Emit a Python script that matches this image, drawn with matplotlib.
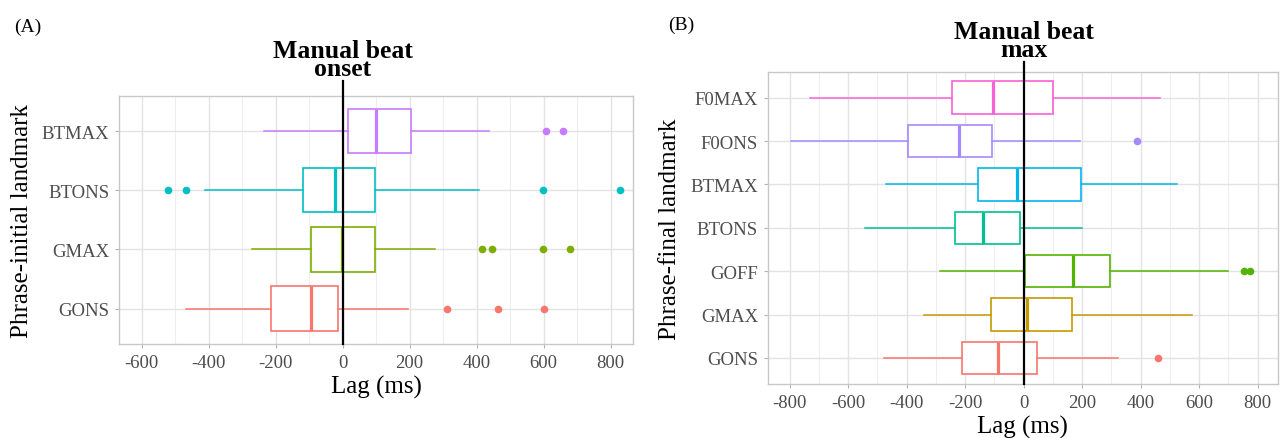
"""Lag of phrase landmarks relative to manual beat landmarks, two boxplot panels."""

import matplotlib

matplotlib.use("Agg")

import matplotlib.pyplot as plt
from matplotlib.ticker import MultipleLocator
from matplotlib.transforms import blended_transform_factory

plt.rcParams["font.family"] = ["Liberation Serif", "DejaVu Serif"]
plt.rcParams["axes.unicode_minus"] = False

# ---- panel A: phrase-initial landmarks vs manual beat onset (bottom -> top)
A_LANDMARKS = ["GONS", "GMAX", "BTONS", "BTMAX"]
A_WHISK_LO = [-468, -270, -412, -235]
A_Q1 = [-213, -95, -118, 15]
A_MED = [-93, -3, -23, 100]
A_Q3 = [-15, 96, 98, 205]
A_WHISK_HI = [194, 275, 408, 438]
A_OUTLIERS = [
    [311, 465, 602],
    [415, 447, 598, 680],
    [-522, -468, 597, 828],
    [607, 657],
]
A_COLORS = ["#F8766D", "#7CAE00", "#00BFC4", "#C77CFF"]

# ---- panel B: phrase-final landmarks vs manual beat max (bottom -> top)
B_LANDMARKS = ["GONS", "GMAX", "GOFF", "BTONS", "BTMAX", "F0ONS", "F0MAX"]
B_WHISK_LO = [-476, -342, -284, -542, -471, -795, -730]
B_Q1 = [-212, -111, 4, -233, -154, -395, -245]
B_MED = [-89, 11, 169, -140, -24, -221, -106]
B_Q3 = [45, 166, 295, -11, 195, -107, 101]
B_WHISK_HI = [324, 577, 698, 200, 523, 193, 468]
B_OUTLIERS = [[459], [], [755, 773], [], [], [389], []]
B_COLORS = ["#F8766D", "#C49A00", "#53B400", "#00C094", "#00B6EB", "#A58AFF", "#FB61D7"]

TICK_GREY = "#4D4D4D"


def _draw_panel(ax, landmarks, lo, q1, med, q3, hi, outliers, colors, xlim, major, ylabel):
    stats = [
        {"label": name, "whislo": a, "q1": b, "med": c, "q3": d, "whishi": e, "fliers": f}
        for name, a, b, c, d, e, f in zip(landmarks, lo, q1, med, q3, hi, outliers)
    ]
    positions = list(range(1, len(landmarks) + 1))
    art = ax.bxp(
        stats,
        positions=positions,
        widths=0.75,
        orientation="horizontal",
        showcaps=False,
        patch_artist=True,
        boxprops={"linewidth": 1.2},
        whiskerprops={"linewidth": 1.1},
        medianprops={"linewidth": 2.3},
        flierprops={"marker": "o", "markersize": 5.5, "markeredgewidth": 0},
    )
    for i, color in enumerate(colors):
        art["boxes"][i].set_facecolor("white")
        art["boxes"][i].set_edgecolor(color)
        art["medians"][i].set_color(color)
        art["whiskers"][2 * i].set_color(color)
        art["whiskers"][2 * i + 1].set_color(color)
        art["fliers"][i].set_markerfacecolor(color)
        art["fliers"][i].set_markeredgecolor(color)

    ax.set_xlim(*xlim)
    ax.set_ylim(0.4, len(landmarks) + 0.6)
    ax.set_yticks(positions)
    ax.set_yticklabels(landmarks)
    ax.xaxis.set_major_locator(MultipleLocator(major))
    ax.xaxis.set_minor_locator(MultipleLocator(major / 2))

    ax.set_axisbelow(True)
    ax.grid(True, which="major", color="#E3E3E3", linewidth=1.0)
    ax.grid(True, which="minor", axis="x", color="#EEEEEE", linewidth=0.8)
    for spine in ax.spines.values():
        spine.set_color("#C8C8C8")
        spine.set_linewidth(1.0)
    ax.tick_params(which="major", length=3, color="#B3B3B3", labelsize=13.5,
                   labelcolor=TICK_GREY, pad=4)
    ax.tick_params(which="minor", length=0)

    ax.set_xlabel("Lag (ms)", fontsize=18)
    ax.set_ylabel(ylabel, fontsize=18)


fig = plt.figure(figsize=(12.83, 4.39), dpi=100)
ax_a = fig.add_axes([0.0928, 0.2141, 0.4006, 0.5656])
ax_b = fig.add_axes([0.5983, 0.1230, 0.3978, 0.7114])

_draw_panel(ax_a, A_LANDMARKS, A_WHISK_LO, A_Q1, A_MED, A_Q3, A_WHISK_HI, A_OUTLIERS,
            A_COLORS, (-667, 867), 200, "Phrase-initial landmark")
_draw_panel(ax_b, B_LANDMARKS, B_WHISK_LO, B_Q1, B_MED, B_Q3, B_WHISK_HI, B_OUTLIERS,
            B_COLORS, (-875, 870), 200, "Phrase-final landmark")

ax_a.yaxis.set_label_coords(-0.168, 0.5)
ax_b.yaxis.set_label_coords(-0.170, 0.5)
ax_a.xaxis.set_label_coords(0.5, -0.125)
ax_b.xaxis.set_label_coords(0.5, -0.100)

# manual beat reference lines, running up to the headings
ax_a.axvline(0, ymin=0, ymax=1.059, color="black", linewidth=1.6, clip_on=False, zorder=5)
ax_b.axvline(0, ymin=0, ymax=1.031, color="black", linewidth=1.6, clip_on=False, zorder=5)

# anchored on the baseline of the second (last) heading line
for ax, heading, y_base in (
    (ax_a, "Manual beat\nonset", 1.083),
    (ax_b, "Manual beat\nmax", 1.050),
):
    trans = blended_transform_factory(ax.transData, ax.transAxes)
    ax.text(0, y_base, heading, transform=trans, ha="center", va="baseline",
            multialignment="center", linespacing=0.75, fontsize=18.5, fontweight="bold")

fig.text(28 / 1283, 1 - 27 / 439, "(A)", ha="center", va="center", fontsize=14)
fig.text(681 / 1283, 1 - 25 / 439, "(B)", ha="center", va="center", fontsize=14)

fig.savefig("out.png", dpi=100)
